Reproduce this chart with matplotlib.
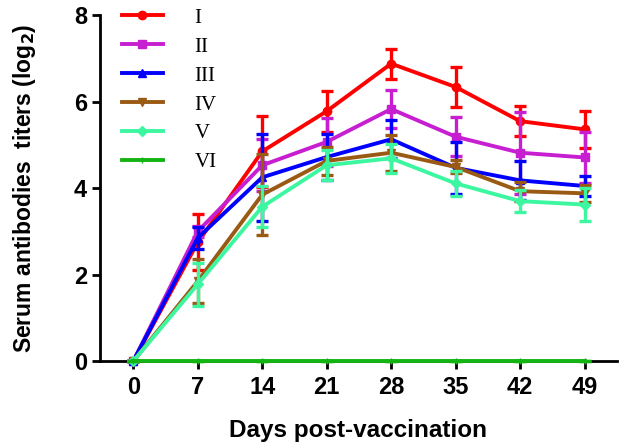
import numpy as np
import matplotlib
matplotlib.use("Agg")
import matplotlib.pyplot as plt
from matplotlib.lines import Line2D

days = [0, 7, 14, 21, 28, 35, 42, 49]
groups = ["I", "II", "III", "IV", "V", "VI"]

# mean log2 titers per group
means = {
    "I":   [0, 2.75, 4.85, 5.78, 6.88, 6.34, 5.55, 5.36],
    "II":  [0, 3.00, 4.53, 5.07, 5.83, 5.19, 4.82, 4.71],
    "III": [0, 2.85, 4.25, 4.72, 5.13, 4.47, 4.18, 4.05],
    "IV":  [0, 1.85, 3.85, 4.63, 4.82, 4.49, 3.93, 3.88],
    "V":   [0, 1.78, 3.57, 4.53, 4.69, 4.11, 3.70, 3.62],
    "VI":  [0, 0, 0, 0, 0, 0, 0, 0],
}
# SD (error bar half-lengths)
errs = {
    "I":   [0, 0.65, 0.83, 0.47, 0.35, 0.47, 0.35, 0.42],
    "II":  [0, 0.12, 0.60, 0.55, 0.44, 0.45, 0.95, 0.60],
    "III": [0, 0.25, 1.00, 0.54, 0.44, 0.60, 0.45, 0.23],
    "IV":  [0, 0.50, 0.93, 0.33, 0.42, 0.15, 0.22, 0.20],
    "V":   [0, 0.50, 0.47, 0.35, 0.33, 0.28, 0.26, 0.38],
    "VI":  [0, 0, 0, 0, 0, 0, 0, 0],
}

colors = ["#ff0000", "#c81ed2", "#0000ff", "#9a5a14", "#3cf7a0", "#14b414"]
markers = ["o", "s", "^", "v", "D", "+"]
msizes = [6, 6, 6, 6, 5, 5]

fig = plt.figure(figsize=(6.3, 4.48), dpi=100)
ax = fig.add_axes([0.159, 0.194, 0.82, 0.772])

handles = []
for i, g in enumerate(groups):
    ax.errorbar(days, means[g], yerr=errs[g], color=colors[i], marker=markers[i],
                markersize=msizes[i], linewidth=2.8, elinewidth=2.4, capsize=4.5,
                capthick=2.4, zorder=3 + i, clip_on=False)
    handles.append(Line2D([], [], color=colors[i], marker=markers[i],
                          markersize=msizes[i], linewidth=2.8, label=g))

ax.set_xlim(-3.6, 52.5)
ax.set_ylim(0, 8)
ax.set_xticks(days)
ax.set_yticks([0, 2, 4, 6, 8])

for s in ["top", "right"]:
    ax.spines[s].set_visible(False)
for s in ["left", "bottom"]:
    ax.spines[s].set_linewidth(2)
ax.tick_params(width=2, length=6, direction="out", labelsize=17)
ax.tick_params(axis="x", pad=5)
for lab in ax.get_xticklabels() + ax.get_yticklabels():
    lab.set_fontweight("bold")
    lab.set_family("Liberation Sans")

ax.set_xlabel("Days post-vaccination", fontsize=17.5, fontweight="bold",
              family="Liberation Sans", labelpad=14)
ax.set_ylabel("Serum antibodies  titers (log$_\\mathbf{2}$)", fontsize=16.5,
              fontweight="bold", family="Liberation Sans", labelpad=26)

ax.legend(handles=handles, loc="upper left", bbox_to_anchor=(0.005, 1.075), frameon=False,
          handlelength=2.0, labelspacing=0.45, handletextpad=1.5,
          prop={"family": "Liberation Serif", "size": 15})

fig.savefig("out.png", dpi=100)
